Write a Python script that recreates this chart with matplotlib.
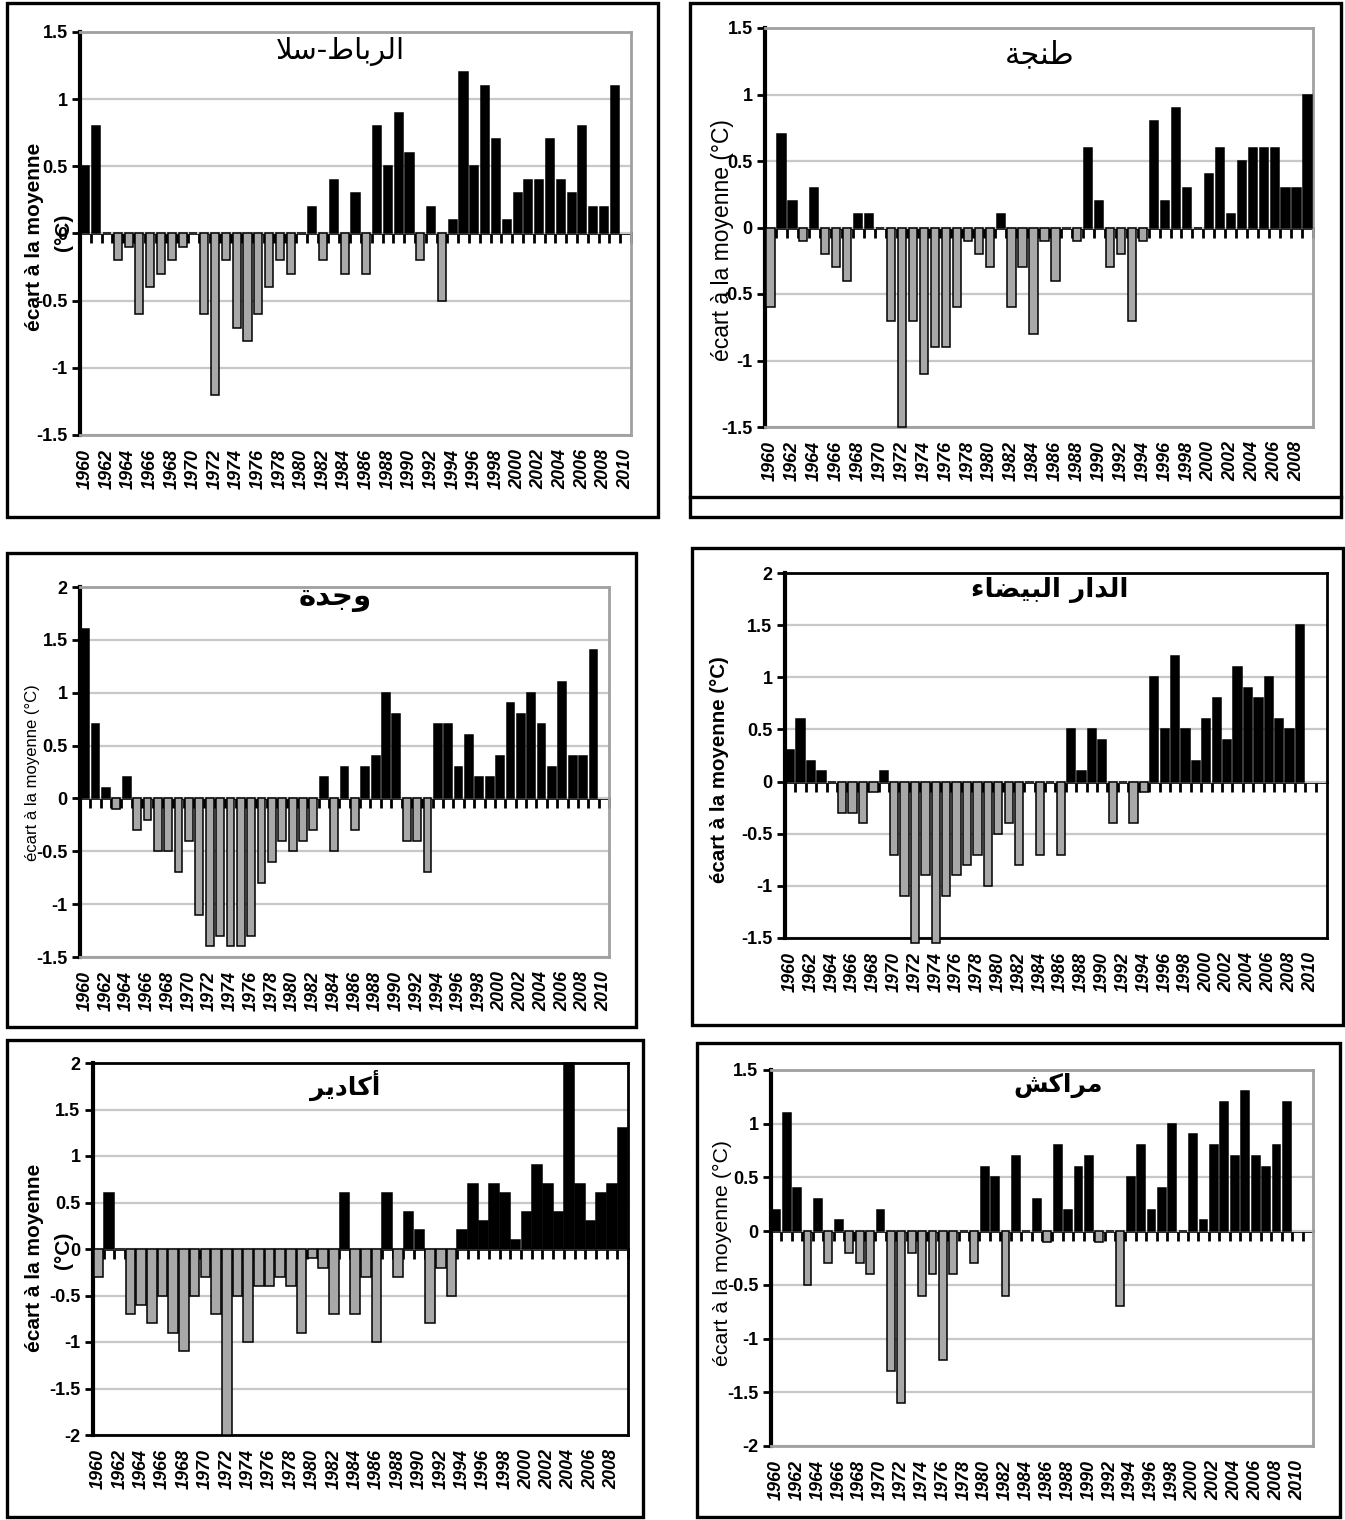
"""
Ecarts des températures annuelles à la moyenne (°C), six stations marocaines.
"""
import matplotlib.pyplot as plt
import numpy as np
from matplotlib.patches import Rectangle

W, H = 1345, 1520

years_51 = list(range(1960, 2011))
years_50 = list(range(1960, 2010))

# ecarts (nan = pas de barre)
rabat = [0.5, 0.8, 0, -0.2, -0.1, -0.6, -0.4, -0.3, -0.2, -0.1,
         0, -0.6, -1.2, -0.2, -0.7, -0.8, -0.6, -0.4, -0.2, -0.3,
         0, 0.2, -0.2, 0.4, -0.3, 0.3, -0.3, 0.8, 0.5, 0.9,
         0.6, -0.2, 0.2, -0.5, 0.1, 1.2, 0.5, 1.1, 0.7, 0.1,
         0.3, 0.4, 0.4, 0.7, 0.4, 0.3, 0.8, 0.2, 0.2, 1.1, np.nan]
tanger = [-0.6, 0.7, 0.2, -0.1, 0.3, -0.2, -0.3, -0.4, 0.1, 0.1,
          0, -0.7, -1.5, -0.7, -1.1, -0.9, -0.9, -0.6, -0.1, -0.2,
          -0.3, 0.1, -0.6, -0.3, -0.8, -0.1, -0.4, 0, -0.1, 0.6,
          0.2, -0.3, -0.2, -0.7, -0.1, 0.8, 0.2, 0.9, 0.3, 0,
          0.4, 0.6, 0.1, 0.5, 0.6, 0.6, 0.6, 0.3, 0.3, 1.0]
oujda = [1.6, 0.7, 0.1, -0.1, 0.2, -0.3, -0.2, -0.5, -0.5, -0.7,
         -0.4, -1.1, -1.4, -1.3, -1.4, -1.4, -1.3, -0.8, -0.6, -0.4,
         -0.5, -0.4, -0.3, 0.2, -0.5, 0.3, -0.3, 0.3, 0.4, 1.0,
         0.8, -0.4, -0.4, -0.7, 0.7, 0.7, 0.3, 0.6, 0.2, 0.2,
         0.4, 0.9, 0.8, 1.0, 0.7, 0.3, 1.1, 0.4, 0.4, 1.4, np.nan]
casa = [0.3, 0.6, 0.2, 0.1, 0, -0.3, -0.3, -0.4, -0.1, 0.1,
        -0.7, -1.1, -1.55, -0.9, -1.55, -1.1, -0.9, -0.8, -0.7, -1.0,
        -0.5, -0.4, -0.8, 0, -0.7, 0, -0.7, 0.5, 0.1, 0.5,
        0.4, -0.4, 0, -0.4, -0.1, 1.0, 0.5, 1.2, 0.5, 0.2,
        0.6, 0.8, 0.4, 1.1, 0.9, 0.8, 1.0, 0.6, 0.5, 1.5, np.nan]
agadir = [-0.3, 0.6, 0, -0.7, -0.6, -0.8, -0.5, -0.9, -1.1, -0.5,
          -0.3, -0.7, -2.0, -0.5, -1.0, -0.4, -0.4, -0.3, -0.4, -0.9,
          -0.1, -0.2, -0.7, 0.6, -0.7, -0.3, -1.0, 0.6, -0.3, 0.4,
          0.2, -0.8, -0.2, -0.5, 0.2, 0.7, 0.3, 0.7, 0.6, 0.1,
          0.4, 0.9, 0.7, 0.4, 2.0, 0.7, 0.3, 0.6, 0.7, 1.3]
marrakech = [0.2, 1.1, 0.4, -0.5, 0.3, -0.3, 0.1, -0.2, -0.3, -0.4,
             0.2, -1.3, -1.6, -0.2, -0.6, -0.4, -1.2, -0.4, 0, -0.3,
             0.6, 0.5, -0.6, 0.7, 0, 0.3, -0.1, 0.8, 0.2, 0.6,
             0.7, -0.1, 0, -0.7, 0.5, 0.8, 0.2, 0.4, 1.0, 0,
             0.9, 0.1, 0.8, 1.2, 0.7, 1.3, 0.7, 0.6, 0.8, 1.2, np.nan]

ticks_15_15 = [-1.5, -1, -0.5, 0, 0.5, 1, 1.5]
ticks_15_2 = [-1.5, -1, -0.5, 0, 0.5, 1, 1.5, 2]
ticks_2_2 = [-2, -1.5, -1, -0.5, 0, 0.5, 1, 1.5, 2]
ticks_2_15 = [-2, -1.5, -1, -0.5, 0, 0.5, 1, 1.5]

# titres arabes en formes de présentation, ordre visuel (matplotlib ne fait pas le shaping)
t_rabat = '\uFEFC\uFEB3-\uFEC1\uFE8E\uFE91\uFEAE\uFEDF\uFE8D'          # الرباط-سلا
t_tanger = '\uFE94\uFEA0\uFEE8\uFEC3'                                # طنجة
t_oujda = '\uFE93\uFEAA\uFE9F\uFEED'                                 # وجدة
t_casa = ('\uFE80\uFE8E\uFEC0\uFEF4\uFE92\uFEDF\uFE8D '
          '\uFEAD\uFE8D\uFEAA\uFEDF\uFE8D')                          # الدار البيضاء
t_agadir = '\uFEAE\uFEF3\uFEA9\uFE8E\uFEDB\uFE83'                    # أكادير
t_marrakech = '\uFEB6\uFEDB\uFE8D\uFEAE\uFEE3'                       # مراكش

ylab = 'écart à la moyenne (°C)'

plt.rcParams['font.family'] = ['Liberation Sans', 'DejaVu Sans']

fig = plt.figure(figsize=(W / 100, H / 100), dpi=100)


def px_axes(left, top, right, bottom):
    return fig.add_axes([left / W, 1 - bottom / H,
                         (right - left) / W, (bottom - top) / H])


def panel(box, years, vals, yticks, xlim, width, border='#a0a0a0'):
    ax = px_axes(*box)
    x = np.arange(len(years))
    v = np.array(vals, dtype=float)
    colors = ['black' if val > 0 else '#a8a8a8' for val in v]
    ax.bar(x, v, width=width, color=colors, edgecolor='black',
           linewidth=1.1, zorder=3, clip_on=False)
    ax.set_xlim(*xlim)
    ax.set_ylim(yticks[0], yticks[-1])
    ax.set_yticks(yticks)
    ax.set_yticklabels([f'{t:g}' for t in yticks], fontweight='bold', fontsize=13)
    ax.yaxis.grid(True, color='#c8c8c8', lw=1.6)
    ax.set_axisbelow(True)
    ax.set_xticks(x[::2])
    ax.set_xticklabels([str(y) for y in years[::2]], rotation=90,
                       style='italic', fontweight='bold', fontsize=13)
    ax.tick_params(axis='x', length=0, pad=10)
    ax.tick_params(axis='y', length=6, width=2, direction='out', pad=3)
    ax.spines['left'].set_linewidth(3)
    ax.spines['left'].set_color('black')
    for s in ('top', 'right', 'bottom'):
        ax.spines[s].set_color(border)
        ax.spines[s].set_linewidth(2)
    # axe des catégories à y = 0
    zero = ax.secondary_xaxis(0, transform=ax.transData)
    zero.set_xticks(np.arange(len(years) + 1) - 0.5)
    zero.set_xticklabels([])
    zero.tick_params(direction='out', length=7, width=2)
    zero.spines['bottom'].set_linewidth(2)
    return ax


def frame(left, top, right, bottom, lw=2.4):
    fig.patches.append(Rectangle((left / W, 1 - bottom / H),
                                 (right - left) / W, (bottom - top) / H,
                                 transform=fig.transFigure, fill=False,
                                 edgecolor='black', lw=lw))


def ftext(x, y, s, **kw):
    fig.text(x / W, 1 - y / H, s, ha='center', va='center', **kw)


# cadres extérieurs
frame(7, 3, 658, 517)
frame(690, 3, 1341, 517)
fig.add_artist(plt.Line2D([690 / W, 1341 / W], [1 - 497 / H, 1 - 497 / H],
                          color='black', lw=2.4))
frame(7, 553, 636, 1027)
frame(692, 548, 1343, 1025)
frame(7, 1040, 643, 1517)
frame(697, 1043, 1340, 1517)

panel((80, 32, 631, 435), years_51, rabat, ticks_15_15, (-0.5, 50.5), 0.75)
panel((765, 28, 1313, 427), years_50, tanger, ticks_15_15, (-0.5, 49.5), 0.75)
panel((80, 587, 609, 957), years_51, oujda, ticks_15_2, (-0.5, 50.5), 0.75)
panel((785, 573, 1327, 938), years_51, casa, ticks_15_2, (-0.5, 51.6), 0.8,
      border='black')
panel((93, 1063, 628, 1435), years_50, agadir, ticks_2_2, (-0.5, 49.5), 0.9,
      border='black')
panel((771, 1070, 1313, 1446), years_51, marrakech, ticks_2_15, (-0.5, 51.5), 0.75)

# titres
ftext(340, 52, t_rabat, family='DejaVu Sans', fontsize=21)
ftext(1040, 55, t_tanger, family='DejaVu Sans', fontsize=22)
ftext(335, 598, t_oujda, family='DejaVu Sans', fontsize=21, fontweight='bold')
ftext(1050, 590, t_casa, family='DejaVu Sans', fontsize=19, fontweight='bold')
ftext(345, 1085, t_agadir, family='DejaVu Sans', fontsize=18, fontweight='bold')
ftext(1058, 1085, t_marrakech, family='DejaVu Sans', fontsize=18, fontweight='bold')

# titres d'axe y
ftext(35, 237, 'écart à la moyenne', rotation=90, fontsize=15, fontweight='bold')
ftext(64, 232, '(°C)', rotation=90, fontsize=15, fontweight='bold')
ftext(722, 240, ylab, rotation=90, fontsize=16.5)
ftext(33, 773, ylab, rotation=90, fontsize=12)
ftext(720, 770, ylab, rotation=90, fontsize=14.8, fontweight='bold')
ftext(35, 1258, 'écart à la moyenne', rotation=90, fontsize=15, fontweight='bold')
ftext(63, 1250, '(°C)', rotation=90, fontsize=15, fontweight='bold')
ftext(722, 1253, ylab, rotation=90, fontsize=15.4)

fig.savefig('out.png', dpi=100)
